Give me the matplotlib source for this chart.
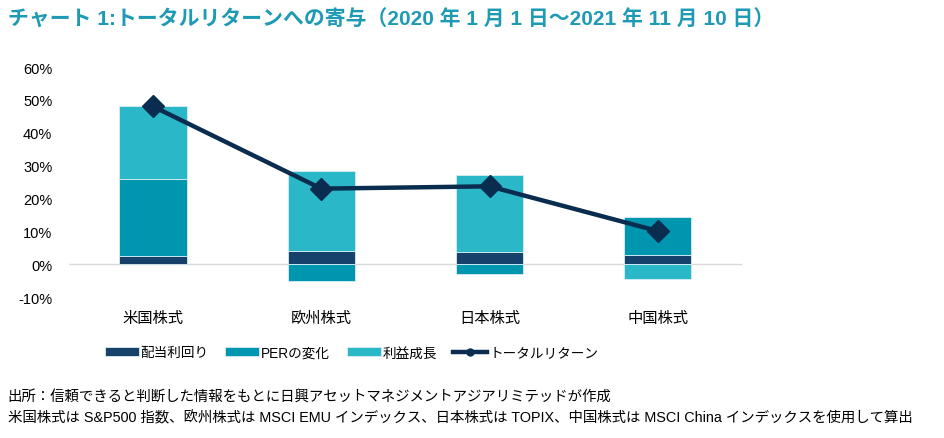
import numpy as np
import matplotlib.pyplot as plt
from matplotlib.ticker import FuncFormatter
from matplotlib.lines import Line2D

plt.rcParams['font.family'] = ['Liberation Sans', 'Noto Sans CJK JP', 'DejaVu Sans']

categories = ["米国株式", "欧州株式", "日本株式", "中国株式"]
dividend = [2.5, 3.9, 3.7, 2.9]
per_change = [23.5, -5.2, -3.1, 11.6]
earnings = [22.2, 24.4, 23.3, -4.5]
total_return = [48.0, 23.0, 23.7, 10.1]

COL = {
    "dividend": "#16416B",
    "per": "#0096B0",
    "earnings": "#2AB7C8",
    "total": "#0A2D4F",
    "title": "#1E9AB4",
}

fig = plt.figure(figsize=(9.45, 4.39), dpi=100)
ax = fig.add_axes([0.073, 0.321, 0.712, 0.524])

x = np.arange(len(categories))
width = 0.4
pos_bottom = np.zeros(len(categories))
neg_bottom = np.zeros(len(categories))
for key, vals, label in [("dividend", dividend, "配当利回り"),
                         ("per", per_change, "PERの変化"),
                         ("earnings", earnings, "利益成長")]:
    vals = np.array(vals)
    bottoms = np.where(vals >= 0, pos_bottom, neg_bottom)
    ax.bar(x, vals, width, bottom=bottoms, color=COL[key], label=label,
           edgecolor="#D8EEF3", linewidth=0.6, zorder=2)
    pos_bottom += np.where(vals >= 0, vals, 0)
    neg_bottom += np.where(vals < 0, vals, 0)

ax.plot(x, total_return, color=COL["total"], linewidth=3.2, marker="D",
        markersize=11, zorder=3)

ax.axhline(0, color="#D9D9D9", linewidth=1, zorder=1)
ax.set_xlim(-0.5, 3.5)
ax.set_ylim(-10, 60)
ax.set_yticks(np.arange(-10, 61, 10))
ax.yaxis.set_major_formatter(FuncFormatter(lambda v, p: f"{v:.0f}%"))
ax.set_xticks(x)
ax.set_xticklabels(categories)
ax.tick_params(axis="both", length=0)
ax.tick_params(axis="x", pad=10, labelsize=11)
ax.tick_params(axis="y", pad=12, labelsize=10.5)
for s in ax.spines.values():
    s.set_visible(False)

handles, labels = ax.get_legend_handles_labels()
line_handle = Line2D([], [], color=COL["total"], linewidth=3.2, marker="o", markersize=5)
fig.legend(handles + [line_handle], labels + ["トータルリターン"],
           loc="center", bbox_to_anchor=(0.372, 0.195), ncols=4, frameon=False,
           fontsize=9.8, handlelength=2.5, columnspacing=1.2, handletextpad=0.15)

fig.text(0.008, 0.955, "チャート 1:トータルリターンへの寄与（2020 年 1 月 1 日～2021 年 11 月 10 日）",
         fontsize=15, fontweight="bold", color=COL["title"], va="center")
fig.text(0.008, 0.095, "出所：信頼できると判断した情報をもとに日興アセットマネジメントアジアリミテッドが作成",
         fontsize=10.4, va="center")
fig.text(0.008, 0.048, "米国株式は S&P500 指数、欧州株式は MSCI EMU インデックス、日本株式は TOPIX、中国株式は MSCI China インデックスを使用して算出",
         fontsize=10.4, va="center")

fig.savefig("out.png", dpi=100)
